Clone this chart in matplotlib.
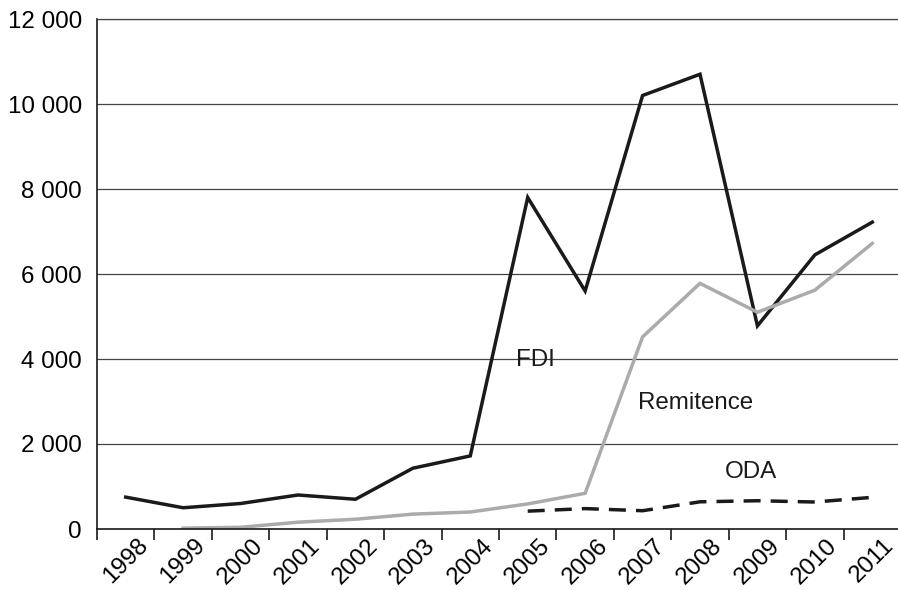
import matplotlib.pyplot as plt
from matplotlib.ticker import FuncFormatter

plt.rcParams['font.family'] = ['Liberation Sans', 'DejaVu Sans']

years = ['1998', '1999', '2000', '2001', '2002', '2003', '2004',
         '2005', '2006', '2007', '2008', '2009', '2010', '2011']
fdi = [750, 500, 600, 800, 700, 1430, 1720, 7800, 5600, 10200, 10700, 4780, 6450, 7220]
# remittances start in 1999, ODA in 2005
remit = [None, 20, 40, 160, 230, 350, 400, 590, 840, 4520, 5780, 5100, 5620, 6720]
oda = [None] * 7 + [420, 480, 430, 640, 665, 635, 745]

y_ticks = [0, 2000, 4000, 6000, 8000, 10000, 12000]
fs = 17.4


def pts(vals):
    xs = [i for i, v in enumerate(vals) if v is not None]
    return xs, [vals[i] for i in xs]


fig = plt.figure(figsize=(8.98, 5.9), dpi=100)
ax = fig.add_axes([97 / 898, 61 / 590, 804 / 898, 510 / 590])

ax.plot(*pts(fdi), color='#1a1a1a', lw=2.5, solid_joinstyle='miter')
ax.plot(*pts(remit), color='#ababab', lw=2.5, solid_joinstyle='miter')
ax.plot(*pts(oda), color='#1a1a1a', lw=2.5, dashes=(4.9, 2.9))

ax.text(7.13, 3980, 'FDI', fontsize=fs, ha='center', va='center', color='#1a1a1a')
ax.text(9.93, 2965, 'Remitence', fontsize=fs, ha='center', va='center', color='#1a1a1a')
ax.text(10.89, 1340, 'ODA', fontsize=fs, ha='center', va='center', color='#1a1a1a')

ax.set_xlim(-0.5, 13.5)
ax.set_ylim(0, 12000)
ax.set_yticks(y_ticks)
ax.yaxis.set_major_formatter(FuncFormatter(lambda v, p: f'{int(v):,}'.replace(',', ' ')))
ax.yaxis.grid(True, color='#444444', lw=0.9)
ax.set_axisbelow(True)

# ticks between categories, labels at centres
ax.set_xticks([i - 0.5 for i in range(len(years))])
ax.set_xticklabels([])
ax.set_xticks(range(len(years)), minor=True)
ax.set_xticklabels(years, minor=True, rotation=45, ha='center', fontsize=fs)
ax.tick_params(axis='x', which='major', direction='out', length=8, width=1.2, color='#1a1a1a')
ax.tick_params(axis='x', which='minor', length=0, pad=4)
ax.tick_params(axis='y', length=0, labelsize=fs, pad=11)

ax.spines['right'].set_visible(False)
ax.spines['top'].set_color('#444444')
ax.spines['top'].set_linewidth(0.9)
ax.spines['left'].set_linewidth(1.2)
ax.spines['bottom'].set_linewidth(1.2)
ax.spines['left'].set_color('#1a1a1a')
ax.spines['bottom'].set_color('#1a1a1a')

fig.savefig('out.png', dpi=100)
